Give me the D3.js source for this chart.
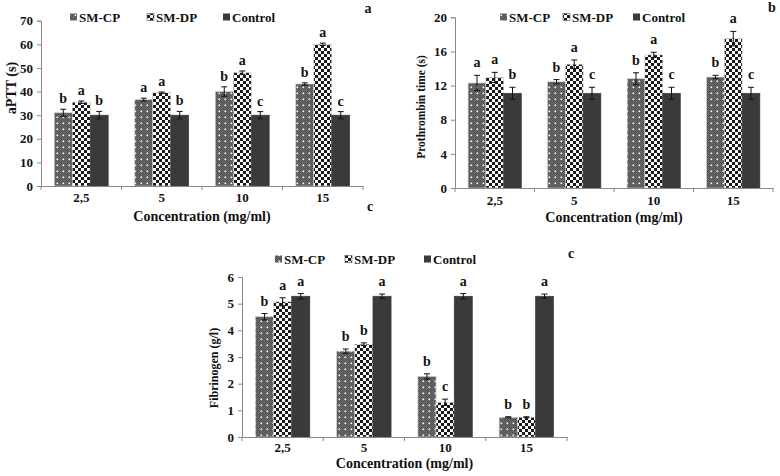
<!DOCTYPE html>
<html><head><meta charset="utf-8">
<script src="https://cdn.jsdelivr.net/npm/d3@7"></script>
<style>
body{margin:0;background:#fff;}
svg{display:block;}
text{font-family:"Liberation Serif","Times New Roman",serif;font-weight:bold;fill:#111;}
</style></head>
<body>
<script>
// ---- data ----
const categories = ["2,5", "5", "10", "15"];
const seriesNames = ["SM-CP", "SM-DP", "Control"];

const apttCP = [31.0, 36.6, 40.0, 43.2];
const apttDP = [35.5, 39.5, 48.0, 60.0];
const apttControl = [30.0, 30.0, 30.0, 30.0];
const apttCPErr = [1.5, 0.6, 2.0, 0.5];
const apttDPErr = [0.5, 0.3, 0.7, 0.5];
const apttControlErr = [1.6, 1.6, 1.5, 1.5];
const apttCPLetters = ["b", "a", "b", "b"];
const apttDPLetters = ["a", "a", "a", "a"];
const apttControlLetters = ["b", "b", "c", "c"];
const apttTicks = [0, 10, 20, 30, 40, 50, 60, 70];

const ptCP = [12.3, 12.45, 12.8, 13.0];
const ptDP = [12.95, 14.5, 15.6, 17.5];
const ptControl = [11.1, 11.1, 11.1, 11.1];
const ptCPErr = [0.9, 0.25, 0.7, 0.2];
const ptDPErr = [0.6, 0.5, 0.3, 0.85];
const ptControlErr = [0.7, 0.7, 0.7, 0.7];
const ptCPLetters = ["a", "b", "b", "b"];
const ptDPLetters = ["a", "a", "a", "a"];
const ptControlLetters = ["b", "c", "c", "c"];
const ptTicks = [0, 4, 8, 12, 16, 20];

const fibCP = [4.51, 3.22, 2.27, 0.74];
const fibDP = [5.07, 3.48, 1.30, 0.74];
const fibControl = [5.28, 5.28, 5.28, 5.28];
const fibCPErr = [0.12, 0.08, 0.10, 0.02];
const fibDPErr = [0.15, 0.05, 0.12, 0.02];
const fibControlErr = [0.10, 0.08, 0.10, 0.08];
const fibCPLetters = ["b", "b", "b", "b"];
const fibDPLetters = ["a", "b", "c", "b"];
const fibControlLetters = ["a", "a", "a", "a"];
const fibTicks = [0, 1, 2, 3, 4, 5, 6];

const xTitle = "Concentration (mg/ml)";

// ---- drawing ----
const W = 780, H = 476;
const svg = d3.select("body").append("svg").attr("width", W).attr("height", H);
const defs = svg.append("defs");

// SM-CP pattern: dark grey fine texture with white dots
const pCP = defs.append("pattern").attr("id", "pCP").attr("patternUnits", "userSpaceOnUse")
  .attr("width", 6).attr("height", 6);
pCP.append("rect").attr("width", 6).attr("height", 6).attr("fill", "#6e6e6e");
[[0,0],[2,0],[4,0],[1,1],[3,1],[5,1],[0,2],[2,2],[4,2],[1,3],[5,3],[0,4],[2,4],[4,4],[1,5],[3,5],[5,5]].forEach(([x,y]) =>
  pCP.append("rect").attr("x", x).attr("y", y).attr("width", 1).attr("height", 1).attr("fill", "#505050"));
pCP.append("rect").attr("x", 2.5).attr("y", 2.5).attr("width", 1.6).attr("height", 1.6).attr("fill", "#f4f4f4");

// SM-DP pattern: white with black checker blobs
const pDP = defs.append("pattern").attr("id", "pDP").attr("patternUnits", "userSpaceOnUse")
  .attr("width", 6).attr("height", 6);
pDP.append("rect").attr("width", 6).attr("height", 6).attr("fill", "#fafafa");
pDP.append("rect").attr("x", 0).attr("y", 0).attr("width", 3).attr("height", 3).attr("fill", "#1a1a1a");
pDP.append("rect").attr("x", 3).attr("y", 3).attr("width", 3).attr("height", 3).attr("fill", "#1a1a1a");

const fills = ["url(#pCP)", "url(#pDP)", "#3a3a3a"];

const panels = [
  {
    values: [apttCP, apttDP, apttControl], errs: [apttCPErr, apttDPErr, apttControlErr],
    letters: [apttCPLetters, apttDPLetters, apttControlLetters], ticks: apttTicks, max: 70,
    yTitle: "aPTT (s)", yTitleSize: 14, xr: [41, 363], yr: [186, 20.7], yTitleX: 11, yTitleY: 88,
    xLabPad: 7, xTitleY: 221, legendY: 17, legendX: [70, 147, 223], label: "a", labelPos: [368, 13], letterGap: 6
  },
  {
    values: [ptCP, ptDP, ptControl], errs: [ptCPErr, ptDPErr, ptControlErr],
    letters: [ptCPLetters, ptDPLetters, ptControlLetters], ticks: ptTicks, max: 20,
    yTitle: "Prothrombin time (s)", yTitleSize: 11.5, xr: [455, 773], yr: [188, 17.3], yTitleX: 421, yTitleY: 107,
    xLabPad: 8, xTitleY: 222, legendY: 17, legendX: [500, 563, 633], label: "b", labelPos: [772, 12], letterGap: 8
  },
  {
    values: [fibCP, fibDP, fibControl], errs: [fibCPErr, fibDPErr, fibControlErr],
    letters: [fibCPLetters, fibDPLetters, fibControlLetters], ticks: fibTicks, max: 6,
    yTitle: "Fibrinogen (g/l)", yTitleSize: 12, xr: [242, 567], yr: [437, 277], yTitleX: 214, yTitleY: 368,
    xLabPad: 6, xTitleY: 468, legendY: 259, legendX: [275, 345, 424], label: "c", labelPos: [571, 258], letterGap: 8
  }
];

panels.forEach(p => {
  const g = svg.append("g");
  const x0 = d3.scaleBand().domain(categories).range(p.xr).paddingInner(0.33).paddingOuter(0.165);
  const x1 = d3.scaleBand().domain(seriesNames).range([0, x0.bandwidth()]);
  const y = d3.scaleLinear().domain([0, p.max]).range(p.yr);

  // y axis
  const ya = g.append("g").attr("transform", `translate(${p.xr[0]},0)`)
    .call(d3.axisLeft(y).tickValues(p.ticks).tickSize(4).tickPadding(4).tickFormat(d3.format("d")));
  ya.select(".domain").attr("stroke", "#8a8a8a");
  ya.selectAll(".tick line").attr("stroke", "#8a8a8a");
  ya.selectAll("text").attr("font-size", 13).attr("font-family", "Liberation Serif").attr("font-weight", "bold").attr("fill", "#111");

  // bars
  seriesNames.forEach((s, si) => {
    const vals = p.values[si], errs = p.errs[si], lets = p.letters[si];
    categories.forEach((c, ci) => {
      const bx = x0(c) + x1(s), bw = x1.bandwidth(), v = vals[ci];
      g.append("rect").attr("x", bx).attr("y", y(v)).attr("width", bw).attr("height", y(0) - y(v))
        .attr("fill", fills[si]).attr("stroke", si === 2 ? "#3a3a3a" : "#cfcfcf").attr("stroke-width", 0.6);
      const cx = bx + bw / 2, e = errs[ci];
      const eg = g.append("g").attr("stroke", "#111").attr("stroke-width", 1);
      eg.append("line").attr("x1", cx).attr("x2", cx).attr("y1", y(v + e)).attr("y2", y(v - e));
      eg.append("line").attr("x1", cx - 3).attr("x2", cx + 3).attr("y1", y(v + e)).attr("y2", y(v + e));
      eg.append("line").attr("x1", cx - 3).attr("x2", cx + 3).attr("y1", y(v - e)).attr("y2", y(v - e));
      g.append("text").attr("x", cx).attr("y", y(v + e) - p.letterGap).attr("text-anchor", "middle")
        .attr("font-size", 14).text(lets[ci]);
    });
  });

  // x axis
  const xa = g.append("g").attr("transform", `translate(0,${p.yr[0]})`)
    .call(d3.axisBottom(x0).tickSize(0).tickPadding(p.xLabPad));
  xa.select(".domain").attr("stroke", "#8a8a8a");
  xa.selectAll("text").attr("font-size", 13).attr("font-family", "Liberation Serif").attr("font-weight", "bold").attr("fill", "#111");
  d3.range(categories.length + 1).forEach(i => {
    const tx = p.xr[0] + i * x0.step();
    g.append("line").attr("x1", tx).attr("x2", tx).attr("y1", p.yr[0]).attr("y2", p.yr[0] + 4)
      .attr("stroke", "#8a8a8a");
  });

  g.append("text").attr("x", (p.xr[0] + p.xr[1]) / 2).attr("y", p.xTitleY).attr("text-anchor", "middle")
    .attr("font-size", 14).text(xTitle);
  g.append("text").attr("transform", `translate(${p.yTitleX},${p.yTitleY}) rotate(-90)`)
    .attr("text-anchor", "middle").attr("dy", "0.35em").attr("font-size", p.yTitleSize).text(p.yTitle);

  // legend
  seriesNames.forEach((s, si) => {
    const lx = p.legendX[si];
    g.append("rect").attr("x", lx).attr("y", p.legendY - 3.5).attr("width", 7).attr("height", 7)
      .attr("fill", fills[si]).attr("stroke", si === 1 ? "#555" : "none").attr("stroke-width", 0.6);
    g.append("text").attr("x", lx + 9).attr("y", p.legendY).attr("dy", "0.35em").attr("font-size", 13).text(s);
  });

  g.append("text").attr("x", p.labelPos[0]).attr("y", p.labelPos[1]).attr("text-anchor", "middle")
    .attr("font-size", 14).text(p.label);
});

// stray label under panel a
svg.append("text").attr("x", 370).attr("y", 211).attr("text-anchor", "middle").attr("font-size", 14).text("c");
</script>
</body></html>
